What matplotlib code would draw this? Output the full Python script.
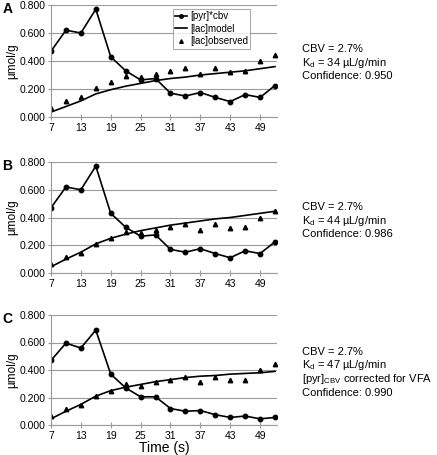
import numpy as np
import matplotlib
matplotlib.use("Agg")
import matplotlib.pyplot as plt

plt.rcParams['font.family'] = ['Liberation Sans', 'DejaVu Sans']

# time points (s)
time = [7, 10, 13, 16, 19, 22, 25, 28, 31, 34, 37, 40, 43, 46, 49, 52]
xticks = [7, 13, 19, 25, 31, 37, 43, 49]

# [pyr]*cbv
pyr_ab = [0.47, 0.62, 0.60, 0.77, 0.43, 0.33, 0.265, 0.275, 0.17, 0.15, 0.175, 0.14, 0.11, 0.16, 0.14, 0.225]
pyr_c = [0.47, 0.595, 0.56, 0.69, 0.37, 0.27, 0.205, 0.205, 0.12, 0.10, 0.105, 0.075, 0.055, 0.065, 0.045, 0.055]

# [lac]observed
lac_obs = [0.065, 0.115, 0.145, 0.21, 0.25, 0.295, 0.285, 0.31, 0.33, 0.35, 0.31, 0.35, 0.325, 0.33, 0.40, 0.445]

# [lac]model
model_a = [0.035, 0.075, 0.115, 0.165, 0.195, 0.22, 0.24, 0.26, 0.275, 0.285, 0.30, 0.31, 0.32, 0.33, 0.345, 0.36]
model_b = [0.045, 0.10, 0.15, 0.21, 0.25, 0.28, 0.305, 0.325, 0.345, 0.36, 0.375, 0.39, 0.40, 0.415, 0.43, 0.445]
model_c = [0.045, 0.10, 0.15, 0.21, 0.25, 0.275, 0.295, 0.315, 0.33, 0.345, 0.355, 0.36, 0.37, 0.375, 0.38, 0.39]

panels = ["A", "B", "C"]
pyr_list = [pyr_ab, pyr_ab, pyr_c]
model_list = [model_a, model_b, model_c]
notes = [
    ["CBV = 2.7%", "K$_\\mathregular{d}$ = 34 µL/g/min", "Confidence: 0.950"],
    ["CBV = 2.7%", "K$_\\mathregular{d}$ = 44 µL/g/min", "Confidence: 0.986"],
    ["CBV = 2.7%", "K$_\\mathregular{d}$ = 47 µL/g/min",
     "[pyr]$_\\mathregular{CBV}$ corrected for VFA", "Confidence: 0.990"],
]

fig = plt.figure(figsize=(4.37, 4.55), dpi=100)
# axes boxes in pixels: top, bottom
boxes = [(5, 117), (162, 273), (315, 425)]
note_y = [49, 207, 352]
grey = '#9a9a9a'

for i in range(3):
    top, bot = boxes[i]
    ax = fig.add_axes([51/437, 1-bot/455, (277-51)/437, (bot-top)/455])
    ax.plot(time, pyr_list[i], '-o', color='black', lw=1.2, ms=3.2, label='[pyr]*cbv')
    ax.plot(time, model_list[i], '-', color='black', lw=1.2, label='[lac]model')
    ax.plot(time, lac_obs, '^', color='black', ms=3.2, ls='none', label='[lac]observed')
    ax.set_xlim(7, 52.4)
    ax.set_ylim(0, 0.8)
    ax.set_yticks([0, 0.2, 0.4, 0.6, 0.8])
    ax.set_yticklabels(['%.3f' % v for v in [0, 0.2, 0.4, 0.6, 0.8]])
    ax.set_xticks(xticks)
    ax.grid(axis='y', color=grey, lw=0.8)
    ax.set_axisbelow(True)
    for s in ['top', 'right']:
        ax.spines[s].set_visible(False)
    for s in ['left', 'bottom']:
        ax.spines[s].set_linewidth(0.8)
        ax.spines[s].set_color(grey)
    ax.tick_params(labelsize=7.5, length=4, width=0.8, color=grey,
                   direction='inout', pad=2)
    ax.set_ylabel('µmol/g', fontsize=8.5, labelpad=1)
    ax.text(-0.215, 0.965, panels[i], transform=ax.transAxes, fontsize=10,
            fontweight='bold', ha='left', va='center')
    if i == 0:
        leg = ax.legend(loc='upper left', bbox_to_anchor=(0.54, 0.965), fontsize=7,
                        frameon=True, fancybox=False, edgecolor=grey,
                        handlelength=1.2, borderpad=0.25, labelspacing=0.25,
                        handletextpad=0.3, borderaxespad=0, markerscale=0.8)
        leg.get_frame().set_linewidth(0.8)
    if i == 2:
        ax.set_xlabel('Time (s)', fontsize=10, labelpad=0)
    for j, line in enumerate(notes[i]):
        fig.text(302/437, 1-(note_y[i] + 13.5*j)/455, line, fontsize=8,
                 ha='left', va='center')

fig.savefig('out.png', dpi=100)
